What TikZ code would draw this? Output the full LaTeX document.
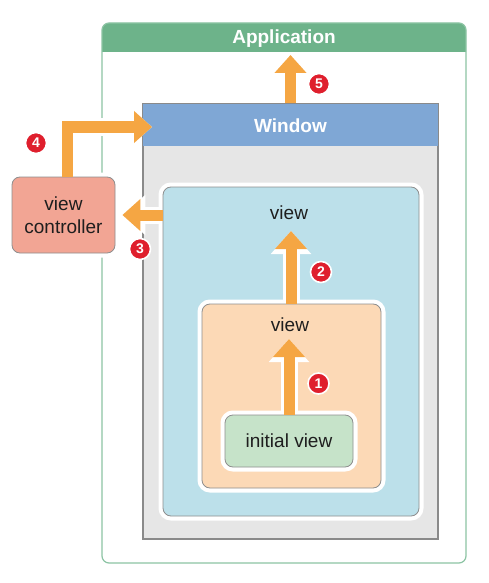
\documentclass[tikz,border=0pt]{standalone}
\usepackage{fontspec}
\setmainfont{Liberation Sans}
\usetikzlibrary{arrows.meta,calc}
\definecolor{appgreen}{HTML}{6DB38A}
\definecolor{appline}{HTML}{8CC4A4}
\definecolor{winblue}{HTML}{7FA7D5}
\definecolor{wingray}{HTML}{E6E6E6}
\definecolor{winline}{HTML}{8A8A8A}
\definecolor{vblue}{HTML}{BCE0EA}
\definecolor{vorange}{HTML}{FCD9B6}
\definecolor{vgreen}{HTML}{C6E3C9}
\definecolor{vcred}{HTML}{F2A594}
\definecolor{arrorange}{HTML}{F5A643}
\definecolor{badgered}{HTML}{DF1F2D}
\definecolor{boxline}{HTML}{8E8E8E}
\definecolor{txt}{HTML}{1E1E1E}
\begin{document}
\begin{tikzpicture}[x=1pt,y=-1pt,
  lbl/.style={font=\fontsize{19}{23}\selectfont, text=txt, align=center},
  hdr/.style={font=\fontsize{19}{23}\selectfont\bfseries, text=white},
  viewbox/.style={rounded corners=8, draw=boxline, line width=0.8, inner sep=0, preaction={draw=white, line width=9}},
  flow/.style={draw=arrorange, line width=11pt, -{Triangle[width=31pt,length=18pt]},
    preaction={draw=white, line width=17pt, shorten <=3pt, -{Triangle[width=39pt,length=23pt]}}},
  badge/.style={circle, fill=badgered, draw=white, line width=1.6, inner sep=0, minimum size=21, text=white, font=\fontsize{14}{14}\selectfont\bfseries}
]
\useasboundingbox (0,0) rectangle (488,583);
\fill[white] (0,0) rectangle (488,583);

% Application
\begin{scope}
  \clip (102,23) rectangle (466,52);
  \fill[appgreen, rounded corners=7] (102,23) rectangle (466,62);
\end{scope}
\node (app) [draw=appline, line width=1.2, rounded corners=7, minimum width=364, minimum height=540, inner sep=0] at (284,293) {};
\node (apptitle) [hdr] at (284,39) {Application};

% Window
\node (win) [fill=wingray, draw=winline, line width=1.2, minimum width=295, minimum height=435, inner sep=0] at (290.5,321.5) {};
\fill[winblue] (win.north west) rectangle ($(win.north east)+(0,43)$);
\draw[winline, line width=1.2] (win.north west) rectangle (win.south east);
\node (wintitle) [hdr] at (290.5,125.5) {Window};

% Views
\node (bview) [viewbox, fill=vblue, minimum width=256, minimum height=329] at (291,351.5) {};
\node (bviewlbl) [lbl] at (289,213) {view};
\node (oview) [viewbox, fill=vorange, minimum width=179, minimum height=184] at (291.5,396) {};
\node (oviewlbl) [lbl] at (290,325) {view};
\node (iview) [viewbox, fill=vgreen, minimum width=128, minimum height=52, lbl] at (289,441) {initial view};

% View controller
\node (vc) [viewbox, fill=vcred, minimum width=103, minimum height=76, lbl] at (63.5,215) {view\\controller};

% Arrow targets
\coordinate (t1) at (289,339);
\coordinate (t2) at (291,231);
\coordinate (t3) at ([xshift=7]vc.east);
\coordinate (t4) at (152,127);
\coordinate (t5) at (290.5,55);

% Arrows
\draw[flow] (iview.north) -- (t1);
\draw[flow] (oview.north -| t2) -- (t2);
\draw[flow] (bview.west |- vc.east) -- (t3);
\draw[flow] ([xshift=3.5]vc.north) |- (t4);
\draw[flow] (win.north) -- (t5);

% Badges
\node (b1) [badge] at (318.5,383.5) {1};
\node (b2) [badge] at (321,272) {2};
\node (b3) [badge] at (140,249) {3};
\node (b4) [badge] at (36,143) {4};
\node (b5) [badge] at (319,84) {5};
\end{tikzpicture}
\end{document}
